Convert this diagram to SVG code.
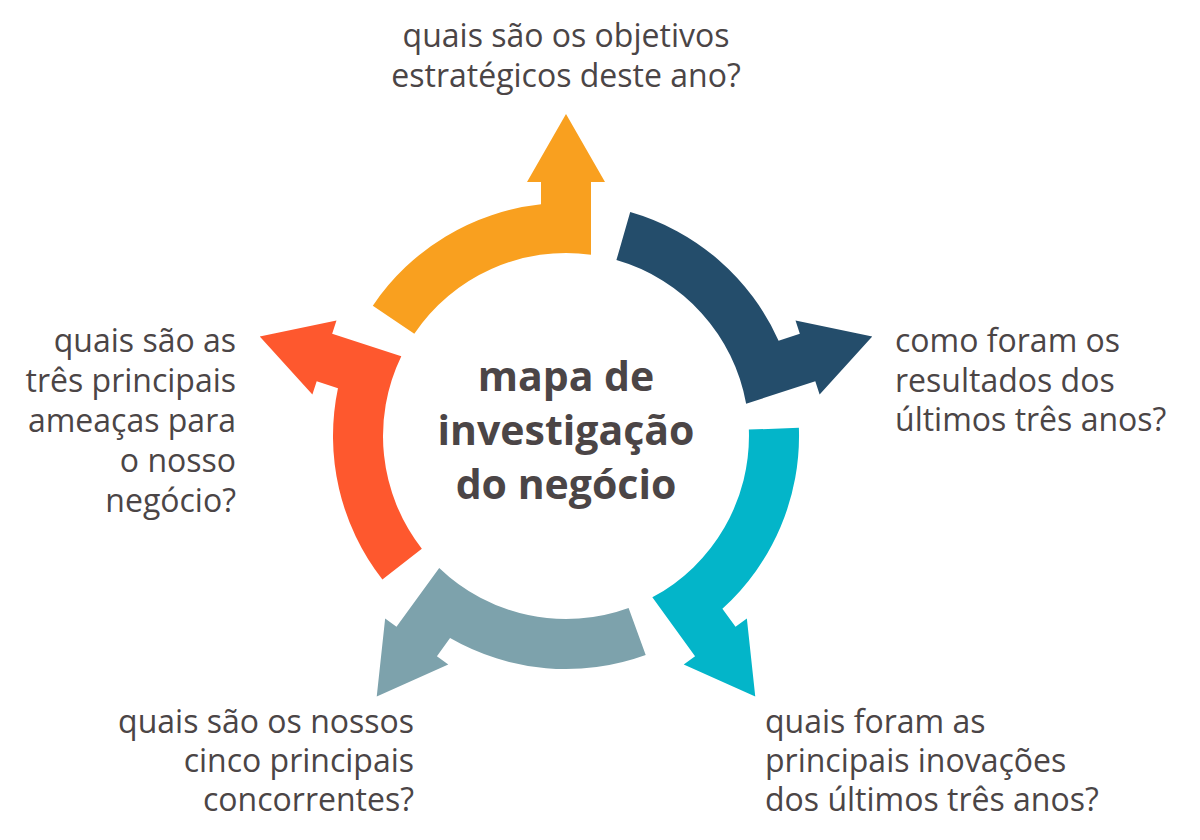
<svg xmlns="http://www.w3.org/2000/svg" width="1200" height="840" viewBox="0 0 1200 840">
  <defs>
    <path id="arrowShape" d="M -193.2 -130.3 A 233 233 0 0 1 -25 -231.65 L -25 -254 L -39 -254 L 0 -322 L 39 -254 L 25 -254 L 25 -181.3 A 183 183 0 0 0 -151.7 -102.3 Z"/>
  </defs>
  <style>
    .lbl { font-family: "Open Sans", "Noto Sans", "Liberation Sans", sans-serif; font-size: 32px; fill: #4b4546; }
    .ctr { font-family: "Open Sans", "Noto Sans", "Liberation Sans", sans-serif; font-size: 41px; font-weight: bold; fill: #4b4546; text-anchor: middle; }
  </style>
  <rect width="1200" height="840" fill="#ffffff"/>

  <g id="connectors">
    <use href="#arrowShape" transform="translate(566 436) rotate(0)" fill="#f9a01f"/>
    <use href="#arrowShape" transform="translate(566 436) rotate(72)" fill="#244d6b"/>
    <use href="#arrowShape" transform="translate(566 436) rotate(144)" fill="#03b5c9"/>
    <use href="#arrowShape" transform="translate(566 436) rotate(216)" fill="#7da2ac"/>
    <use href="#arrowShape" transform="translate(566 436) rotate(288)" fill="#fe582e"/>
  </g>

  <g id="center">
    <text class="ctr" x="566" y="391">mapa de</text>
    <text class="ctr" x="566" y="445">investigação</text>
    <text class="ctr" x="566" y="499">do negócio</text>
  </g>

  <g id="top">
    <text class="lbl" x="566" y="47" text-anchor="middle">quais são os objetivos</text>
    <text class="lbl" x="566" y="87" text-anchor="middle">estratégicos deste ano?</text>
  </g>

  <g id="right">
    <text class="lbl" x="895" y="352">como foram os</text>
    <text class="lbl" x="895" y="392">resultados dos</text>
    <text class="lbl" x="895" y="431">últimos três anos?</text>
  </g>

  <g id="bottom-right">
    <text class="lbl" x="765" y="733">quais foram as</text>
    <text class="lbl" x="765" y="772">principais inovações</text>
    <text class="lbl" x="765" y="811">dos últimos três anos?</text>
  </g>

  <g id="bottom-left">
    <text class="lbl" x="414" y="733" text-anchor="end">quais são os nossos</text>
    <text class="lbl" x="414" y="772" text-anchor="end">cinco principais</text>
    <text class="lbl" x="414" y="811" text-anchor="end">concorrentes?</text>
  </g>

  <g id="left">
    <text class="lbl" x="236" y="352" text-anchor="end">quais são as</text>
    <text class="lbl" x="236" y="392" text-anchor="end">três principais</text>
    <text class="lbl" x="236" y="432" text-anchor="end">ameaças para</text>
    <text class="lbl" x="236" y="472" text-anchor="end">o nosso</text>
    <text class="lbl" x="236" y="512" text-anchor="end">negócio?</text>
  </g>
</svg>
